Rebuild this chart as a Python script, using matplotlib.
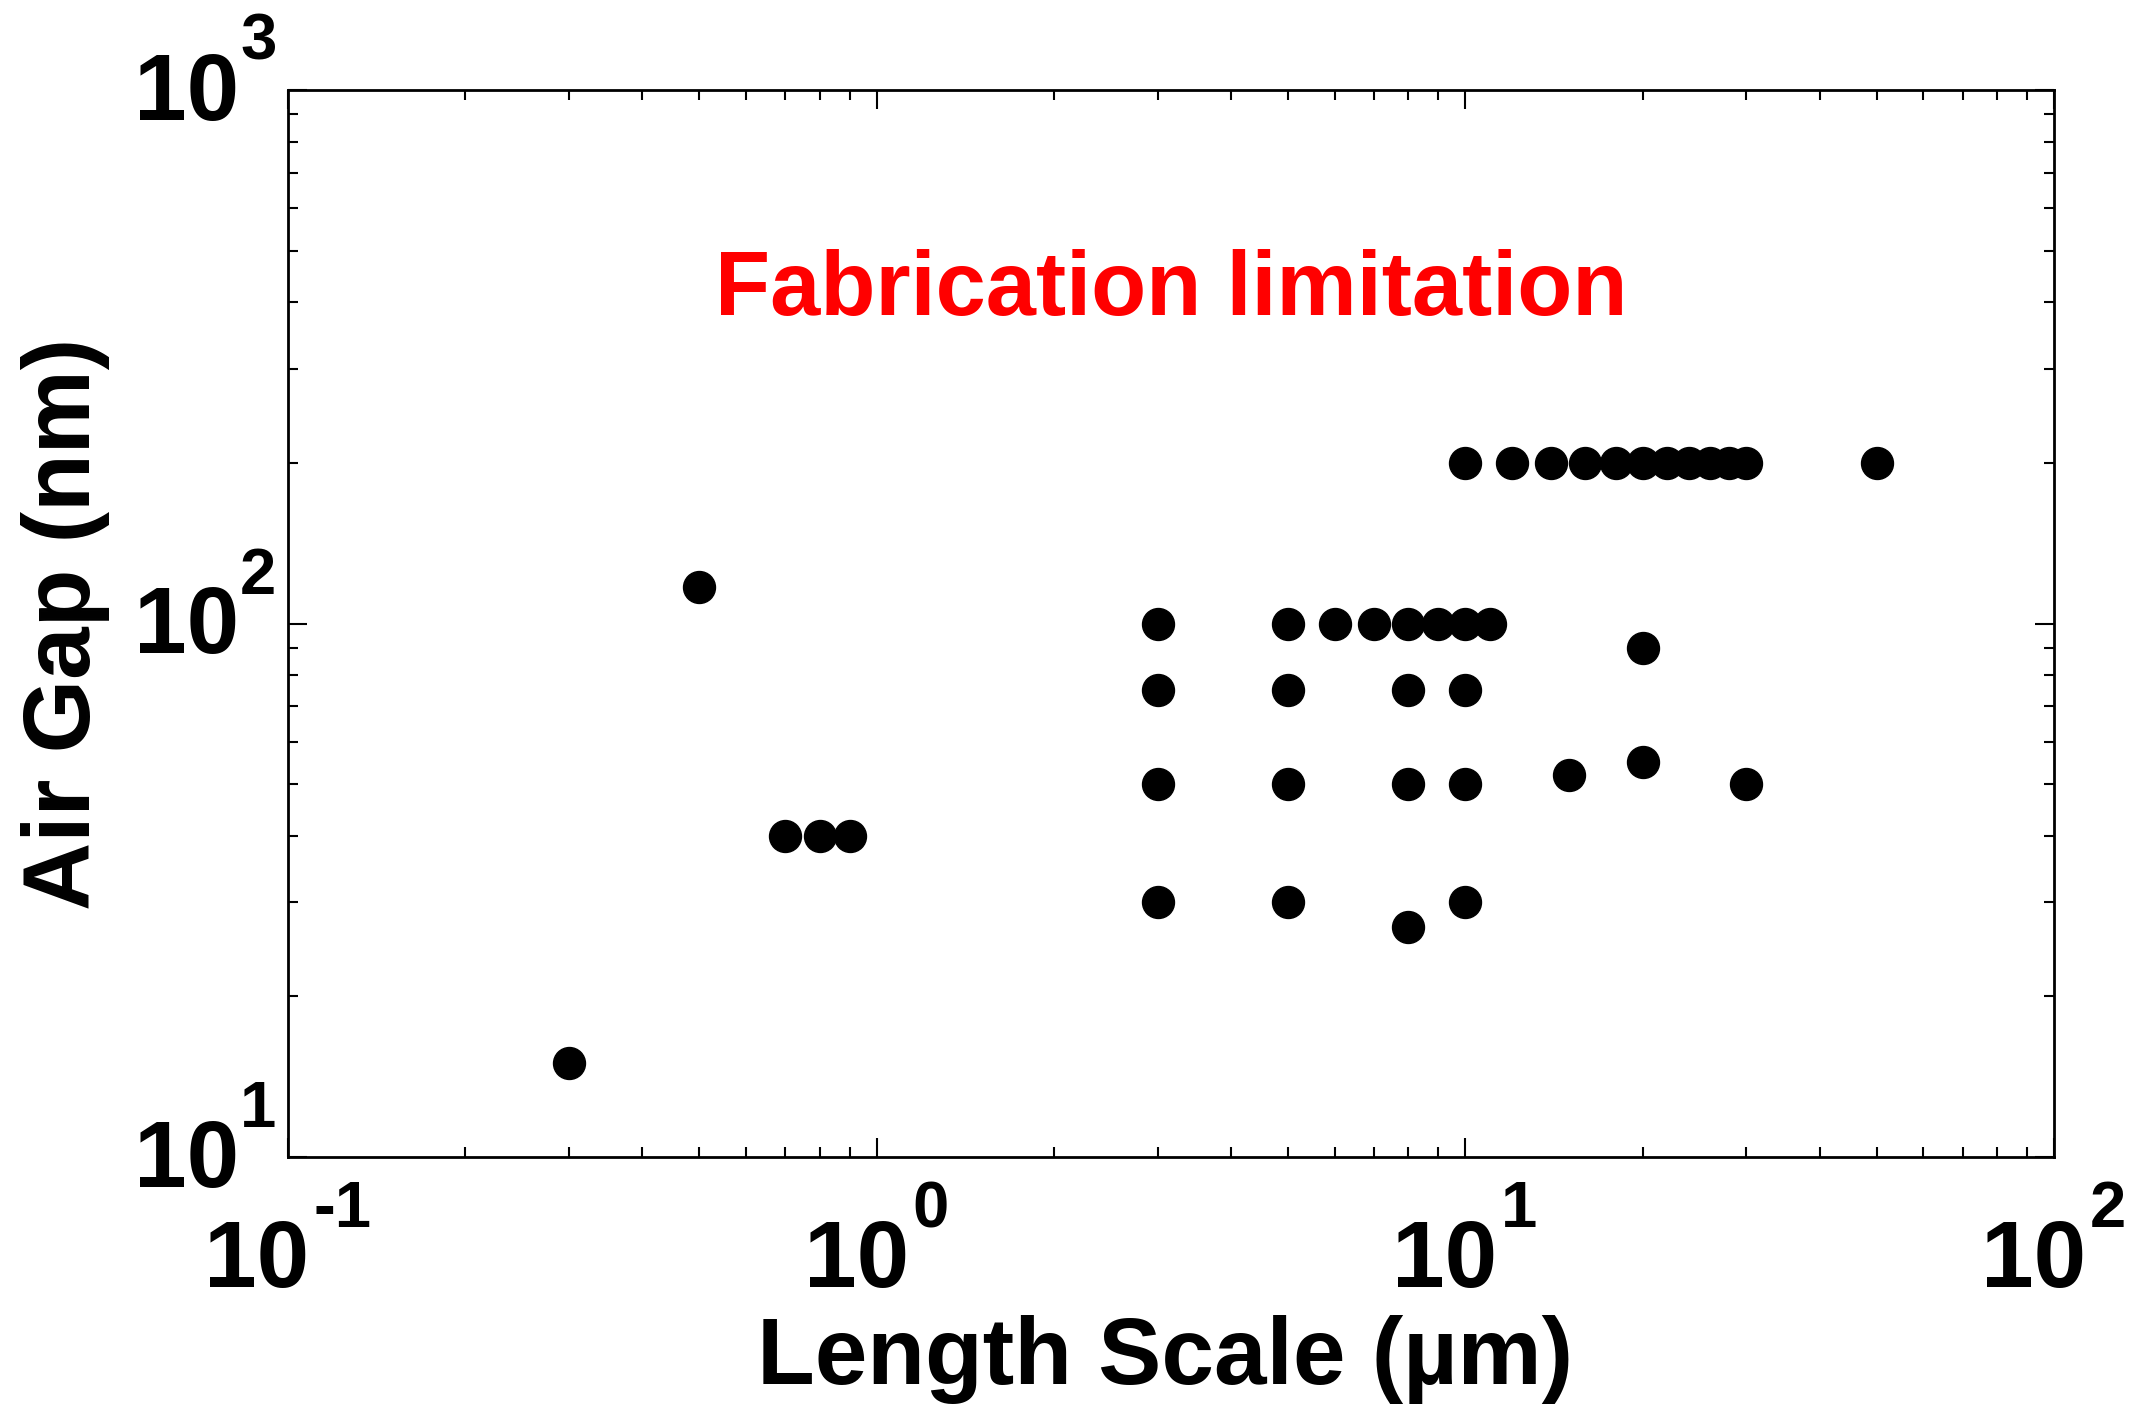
import matplotlib
matplotlib.use("Agg")
import matplotlib.pyplot as plt
from matplotlib.ticker import FixedLocator, NullFormatter, LogLocator

# data
length_um = [0.3, 0.5, 0.7, 0.8, 0.9,
             3, 3, 3, 3,
             5, 5, 5, 5,
             6, 7,
             8, 8, 8, 8,
             9,
             10, 10, 10, 10,
             11,
             10, 12, 14, 16, 18, 20, 22, 24, 26, 28, 30, 50,
             15, 20, 20, 30]
gap_nm = [15, 117, 40, 40, 40,
          100, 75, 50, 30,
          100, 75, 50, 30,
          100, 100,
          100, 75, 50, 27,
          100,
          100, 75, 50, 30,
          100,
          200, 200, 200, 200, 200, 200, 200, 200, 200, 200, 200, 200,
          52, 90, 55, 50]

x_ticks = [0.1, 1, 10, 100]
x_tick_exps = ['-1', '0', '1', '2']
y_ticks = [10, 100, 1000]
y_tick_exps = ['1', '2', '3']

plt.rcParams['font.family'] = ['Liberation Sans', 'DejaVu Sans']
plt.rcParams['font.weight'] = 'bold'

fig = plt.figure(figsize=(21.29, 14.04), dpi=100)
ax = fig.add_axes([288 / 2129, 1 - 1157 / 1404, 1766 / 2129, 1067 / 1404])

ax.plot(length_um, gap_nm, 'o', color='black', markersize=23, linestyle='none')

ax.set_xscale('log')
ax.set_yscale('log')
ax.set_xlim(0.1, 100)
ax.set_ylim(10, 1000)

ax.xaxis.set_major_locator(FixedLocator(x_ticks))
ax.yaxis.set_major_locator(FixedLocator(y_ticks))
ax.xaxis.set_minor_locator(LogLocator(base=10, subs=range(2, 10)))
ax.yaxis.set_minor_locator(LogLocator(base=10, subs=range(2, 10)))
for axis in (ax.xaxis, ax.yaxis):
    axis.set_major_formatter(NullFormatter())
    axis.set_minor_formatter(NullFormatter())

for s in ax.spines.values():
    s.set_linewidth(2.0)
ax.tick_params(which='both', direction='in', top=True, right=True, width=1.5)
ax.tick_params(which='major', length=13.5)
ax.tick_params(which='minor', length=7)

# tick labels like "10" with a raised exponent
big, small = 68, 47
for v, e in zip(x_ticks, x_tick_exps):
    dx = 32 if len(e) == 1 else 21
    ax.annotate('10', xy=(v, 0), xycoords=('data', 'axes fraction'),
                xytext=(dx, -130), textcoords='offset pixels',
                ha='right', va='baseline', fontsize=big, fontweight='bold',
                annotation_clip=False)
    ax.annotate(e, xy=(v, 0), xycoords=('data', 'axes fraction'),
                xytext=(dx + 4, -70), textcoords='offset pixels',
                ha='left', va='baseline', fontsize=small, fontweight='bold',
                annotation_clip=False)
for v, e in zip(y_ticks, y_tick_exps):
    ax.annotate('10', xy=(0, v), xycoords=('axes fraction', 'data'),
                xytext=(-49, -30), textcoords='offset pixels',
                ha='right', va='baseline', fontsize=big, fontweight='bold',
                annotation_clip=False)
    ax.annotate(e, xy=(0, v), xycoords=('axes fraction', 'data'),
                xytext=(-48, 30), textcoords='offset pixels',
                ha='left', va='baseline', fontsize=small, fontweight='bold',
                annotation_clip=False)

ax.set_xlabel('Length Scale (µm)', fontsize=68, fontweight='bold', va='baseline')
ax.xaxis.set_label_coords(0.4966, -0.2127)
ax.set_ylabel('Air Gap (nm)', fontsize=68, fontweight='bold', va='baseline')
ax.yaxis.set_label_coords(-0.1121, 0.5)

ax.text(0.2418, 0.7891, 'Fabrication limitation', transform=ax.transAxes,
        ha='left', va='baseline', color='#ff0000', fontsize=65, fontweight='bold')

fig.savefig('out.png', dpi=100)
